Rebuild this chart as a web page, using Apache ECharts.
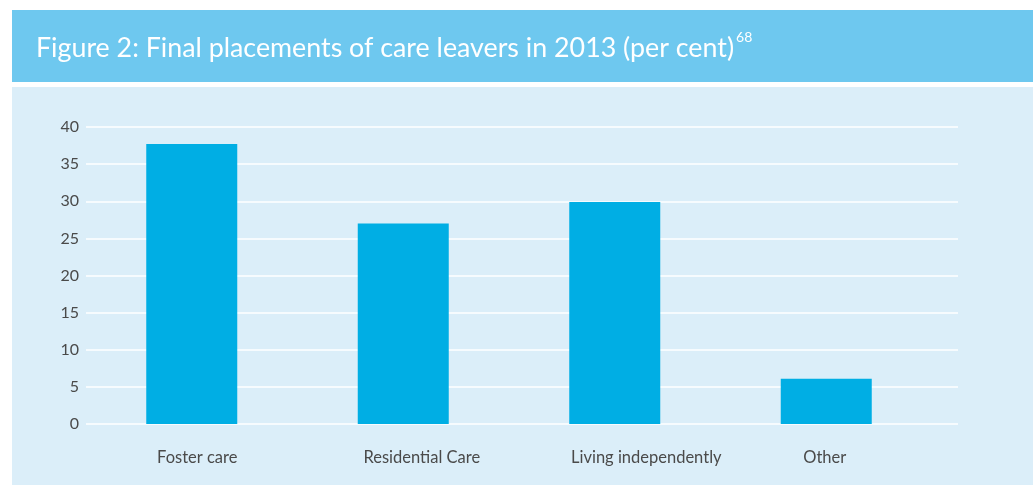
<!DOCTYPE html>
<html>
<head>
<meta charset="utf-8">
<script src="https://cdn.jsdelivr.net/npm/echarts@6/dist/echarts.min.js"></script>
<style>
html,body{margin:0;padding:0;background:#ffffff;}
#chart{width:1033px;height:486px;}
</style>
</head>
<body>
<div id="chart"></div>
<script>
var categories = ['Foster care', 'Residential Care', 'Living independently', 'Other'];
var values = [37.7, 27.0, 29.9, 6.1];
var yTicks = [0, 5, 10, 15, 20, 25, 30, 35, 40];
var labelShift = [11, 37, 63, -3];

var chart = echarts.init(document.getElementById('chart'), null, {renderer: 'canvas'});
var font = 'Lato, "Open Sans", sans-serif';
var rich = {};
labelShift.forEach(function (s, i) {
  rich['c' + i] = {fontFamily: font, fontSize: 16.5, color: '#4a4a4a',
    padding: s >= 0 ? [0, 0, 0, s] : [0, -s, 0, 0]};
});
var option = {
  animation: false,
  backgroundColor: '#ffffff',
  graphic: [
    {type: 'rect', shape: {x: 12, y: 10, width: 1021, height: 72}, style: {fill: '#6ec8ef'}, z: -10},
    {type: 'rect', shape: {x: 12, y: 87, width: 1021, height: 398}, style: {fill: '#dbeef9'}, z: -10}
  ],
  title: {
    text: '{t|Figure 2: Final placements of care leavers in 2013 (per cent)}{s|68}',
    left: 31,
    top: 25,
    textStyle: {
      rich: {
        t: {fontFamily: font, fontSize: 26.8, color: '#ffffff', fontWeight: 'normal', lineHeight: 32, verticalAlign: 'bottom'},
        s: {fontFamily: font, fontSize: 14, color: '#ffffff', fontWeight: 'normal', lineHeight: 32, verticalAlign: 'top', padding: [0, 0, 11, 2]}
      }
    }
  },
  grid: [
    {left: 86, right: 75, top: 127, bottom: 62},
    {left: 86, right: 101, top: 127, bottom: 62}
  ],
  xAxis: [
    {type: 'category', gridIndex: 0, data: categories, show: false},
    {type: 'category', gridIndex: 1, data: categories,
     axisLine: {show: false}, axisTick: {show: false},
     axisLabel: {interval: 0, hideOverlap: false, margin: 25, fontFamily: font, fontSize: 16.5, color: '#4a4a4a',
       formatter: function (v, i) { return '{c' + i + '|' + v + '}'; }, rich: rich}}
  ],
  yAxis: [
    {type: 'value', gridIndex: 0, min: yTicks[0], max: yTicks[yTicks.length - 1], interval: 5,
     axisLine: {show: false}, axisTick: {show: false},
     axisLabel: {margin: 7, fontFamily: font, fontSize: 16, color: '#4a4a4a'},
     splitLine: {show: true, lineStyle: {color: '#ffffff', width: 1.5}}},
    {type: 'value', gridIndex: 1, min: yTicks[0], max: yTicks[yTicks.length - 1], interval: 5, show: false,
     splitLine: {show: false}}
  ],
  series: [
    {type: 'bar', xAxisIndex: 1, yAxisIndex: 1, data: values, barWidth: 91,
     itemStyle: {color: '#00aee4'}, z: 3}
  ]
};
chart.setOption(option);
</script>
</body>
</html>
